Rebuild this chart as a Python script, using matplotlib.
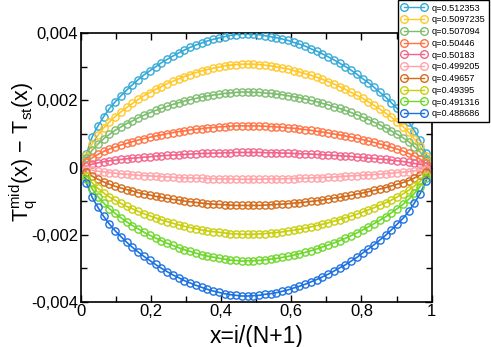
import numpy as np
import matplotlib
matplotlib.use("Agg")
import matplotlib.pyplot as plt
from matplotlib.ticker import MultipleLocator, FuncFormatter

plt.rcParams['font.family'] = ['Liberation Sans', 'DejaVu Sans']
plt.rcParams['mathtext.fontset'] = 'custom'
plt.rcParams['mathtext.rm'] = 'Liberation Sans'
plt.rcParams['mathtext.it'] = 'Liberation Sans'

# lattice sites, x = i/(N+1) with N = 60
n_sites = 60
q_labels = ['q=0.512353', 'q=0.5097235', 'q=0.507094', 'q=0.50446', 'q=0.50183',
            'q=0.499205', 'q=0.49657', 'q=0.49395', 'q=0.491316', 'q=0.488686']
colors = ['#35a9d8', '#ffc828', '#7dbd6e', '#ff7344', '#f2648a',
          '#ffa3a8', '#d46c1c', '#c9cf0c', '#6ed82a', '#1e72e0']

# T_q^mid - T_st, in units of 1e-4
d1 = [4.0, 9.2, 12.4, 15.2, 17.6, 19.6, 21.4, 23.1, 24.7, 26.2,
      27.6, 28.8, 30.0, 31.2, 32.2, 33.2, 34.1, 35.0, 35.8, 36.5,
      37.1, 37.7, 38.2, 38.6, 39.0, 39.4, 39.6, 39.8, 39.8, 39.7,
      39.6, 39.3, 39.0, 38.7, 38.3, 37.9, 37.3, 36.8, 36.2, 35.4,
      34.7, 33.9, 33.0, 32.1, 31.1, 30.1, 29.0, 27.8, 26.5, 25.3,
      23.9, 22.4, 21.0, 19.3, 17.6, 15.8, 13.6, 11.0, 8.1, 4.2]
d2 = [3.7, 7.1, 9.6, 11.8, 13.6, 15.2, 16.6, 17.9, 19.1, 20.3,
      21.4, 22.3, 23.3, 24.1, 25.0, 25.7, 26.4, 27.1, 27.7, 28.3,
      28.8, 29.2, 29.6, 29.9, 30.3, 30.5, 30.7, 30.8, 30.8, 30.8,
      30.7, 30.5, 30.3, 30.0, 29.7, 29.4, 28.9, 28.5, 28.0, 27.5,
      26.9, 26.3, 25.6, 24.9, 24.1, 23.3, 22.4, 21.5, 20.6, 19.6,
      18.5, 17.4, 16.2, 15.0, 13.6, 12.2, 10.5, 8.5, 6.3, 3.3]
d3 = [2.7, 5.2, 7.0, 8.6, 9.9, 11.1, 12.1, 13.1, 13.9, 14.8,
      15.6, 16.3, 17.0, 17.6, 18.2, 18.8, 19.3, 19.8, 20.2, 20.6,
      21.0, 21.3, 21.6, 21.8, 22.1, 22.2, 22.4, 22.5, 22.5, 22.4,
      22.4, 22.2, 22.1, 21.9, 21.7, 21.4, 21.1, 20.8, 20.4, 20.0,
      19.6, 19.1, 18.7, 18.1, 17.6, 17.0, 16.4, 15.7, 15.0, 14.3,
      13.5, 12.7, 11.8, 10.9, 9.9, 8.9, 7.7, 6.2, 4.6, 2.4]
d4 = [1.5, 2.9, 3.9, 4.8, 5.5, 6.1, 6.7, 7.2, 7.7, 8.2,
      8.6, 9.0, 9.4, 9.7, 10.1, 10.4, 10.7, 10.9, 11.2, 11.4,
      11.6, 11.8, 11.9, 12.1, 12.2, 12.3, 12.4, 12.4, 12.4, 12.4,
      12.4, 12.3, 12.2, 12.1, 12.0, 11.8, 11.7, 11.5, 11.3, 11.1,
      10.8, 10.6, 10.3, 10.0, 9.7, 9.4, 9.1, 8.7, 8.3, 7.9,
      7.5, 7.0, 6.6, 6.0, 5.5, 4.9, 4.2, 3.4, 2.5, 1.3]
d5 = [0.5, 1.0, 1.4, 1.7, 2.0, 2.2, 2.4, 2.6, 2.8, 2.9,
      3.1, 3.2, 3.4, 3.5, 3.6, 3.7, 3.8, 3.9, 4.0, 4.1,
      4.2, 4.2, 4.3, 4.3, 4.4, 4.4, 4.5, 4.5, 4.5, 4.5,
      4.5, 4.4, 4.4, 4.4, 4.3, 4.3, 4.2, 4.1, 4.1, 4.0,
      3.9, 3.8, 3.7, 3.6, 3.5, 3.4, 3.3, 3.1, 3.0, 2.8,
      2.7, 2.5, 2.4, 2.2, 2.0, 1.8, 1.5, 1.2, 0.9, 0.5]
d6 = [-0.4, -0.8, -1.1, -1.3, -1.5, -1.7, -1.9, -2.0, -2.2, -2.3,
      -2.4, -2.5, -2.6, -2.7, -2.8, -2.9, -3.0, -3.1, -3.1, -3.2,
      -3.2, -3.3, -3.3, -3.4, -3.4, -3.4, -3.5, -3.5, -3.5, -3.5,
      -3.5, -3.4, -3.4, -3.4, -3.4, -3.3, -3.3, -3.2, -3.2, -3.1,
      -3.0, -3.0, -2.9, -2.8, -2.7, -2.6, -2.5, -2.4, -2.3, -2.2,
      -2.1, -2.0, -1.8, -1.7, -1.5, -1.4, -1.2, -1.0, -0.7, -0.4]
d7 = [-1.4, -2.6, -3.5, -4.3, -5.0, -5.6, -6.1, -6.6, -7.0, -7.5,
      -7.9, -8.2, -8.6, -8.9, -9.2, -9.5, -9.7, -10.0, -10.2, -10.4,
      -10.6, -10.8, -10.9, -11.0, -11.1, -11.2, -11.3, -11.3, -11.3, -11.3,
      -11.3, -11.2, -11.1, -11.0, -10.9, -10.8, -10.6, -10.5, -10.3, -10.1,
      -9.9, -9.7, -9.4, -9.1, -8.9, -8.6, -8.3, -7.9, -7.6, -7.2,
      -6.8, -6.4, -6.0, -5.5, -5.0, -4.5, -3.9, -3.1, -2.3, -1.2]
d8 = [-2.4, -4.6, -6.2, -7.6, -8.8, -9.8, -10.7, -11.6, -12.3, -13.1,
      -13.8, -14.4, -15.0, -15.6, -16.1, -16.6, -17.1, -17.5, -17.9, -18.2,
      -18.6, -18.9, -19.1, -19.3, -19.5, -19.7, -19.8, -19.9, -19.9, -19.9,
      -19.8, -19.7, -19.5, -19.4, -19.2, -18.9, -18.7, -18.4, -18.1, -17.7,
      -17.3, -16.9, -16.5, -16.0, -15.5, -15.0, -14.5, -13.9, -13.3, -12.6,
      -12.0, -11.2, -10.5, -9.7, -8.8, -7.9, -6.8, -5.5, -4.1, -2.1]
d9 = [-3.4, -6.4, -8.7, -10.6, -12.3, -13.7, -15.0, -16.2, -17.3, -18.3,
      -19.3, -20.2, -21.0, -21.8, -22.6, -23.2, -23.9, -24.5, -25.0, -25.5,
      -26.0, -26.4, -26.7, -27.0, -27.3, -27.6, -27.7, -27.9, -27.8, -27.8,
      -27.7, -27.5, -27.3, -27.1, -26.8, -26.5, -26.1, -25.7, -25.3, -24.8,
      -24.3, -23.7, -23.1, -22.5, -21.8, -21.1, -20.3, -19.5, -18.6, -17.7,
      -16.7, -15.7, -14.7, -13.5, -12.3, -11.0, -9.5, -7.7, -5.7, -3.0]
d10 = [-4.6, -8.9, -11.9, -14.6, -16.9, -18.9, -20.6, -22.3, -23.8, -25.2,
       -26.5, -27.7, -28.9, -30.0, -31.0, -32.0, -32.8, -33.7, -34.4, -35.1,
       -35.7, -36.3, -36.8, -37.2, -37.6, -37.9, -38.1, -38.3, -38.3, -38.2,
       -38.1, -37.8, -37.6, -37.3, -36.9, -36.5, -35.9, -35.4, -34.8, -34.1,
       -33.4, -32.6, -31.8, -30.9, -29.9, -29.0, -27.9, -26.8, -25.5, -24.3,
       -23.0, -21.6, -20.2, -18.6, -16.9, -15.2, -13.1, -10.6, -7.8, -4.1]

series = [d1, d2, d3, d4, d5, d6, d7, d8, d9, d10]

x = np.arange(1, n_sites + 1) / (n_sites + 1)
x_line = np.concatenate([[0.0], x, [1.0]])

fig = plt.figure(figsize=(4.91, 3.47), dpi=100)
ax = fig.add_axes([0.1644, 0.1305, 0.7147, 0.7735])

for vals, col, lab in zip(series, colors, q_labels):
    y = np.array(vals) * 1e-4
    y_line = np.concatenate([[0.0], y, [0.0]])
    ax.plot(x_line, y_line, '-', color=col, lw=1.2, zorder=2)
    ax.plot(x, y, 'o', mfc='none', mec=col, mew=1.0, ms=5.2, zorder=3)
    # legend handle only
    ax.plot([], [], 'o-', color=col, mfc='none', mec=col, mew=1.0, ms=5.5, lw=1.0, label=lab)

ax.set_xlim(0, 1)
ax.set_ylim(-0.004, 0.004)
ax.xaxis.set_major_locator(MultipleLocator(0.2))
ax.xaxis.set_minor_locator(MultipleLocator(0.1))
ax.yaxis.set_major_locator(MultipleLocator(0.002))
ax.yaxis.set_minor_locator(MultipleLocator(0.001))


def comma_fmt(v, pos):
    if abs(v) < 1e-12:
        return '0'
    s = ('%.3f' % v).rstrip('0').rstrip('.')
    return s.replace('.', ',')


ax.xaxis.set_major_formatter(FuncFormatter(comma_fmt))
ax.yaxis.set_major_formatter(FuncFormatter(comma_fmt))
ax.tick_params(which='both', direction='in', top=True, right=True, width=1.0,
               labelsize=12, pad=2)
ax.tick_params(which='major', length=5)
ax.tick_params(which='minor', length=4)
for sp in ax.spines.values():
    sp.set_linewidth(1.2)

ax.set_xlabel('x=i/(N+1)', fontsize=16.5)
ax.xaxis.set_label_coords(0.5, -0.085)
ax.set_ylabel(r'$\mathregular{T_q^{mid}(x)\,-\,T_{st}(x)}$', fontsize=15.5)
ax.yaxis.set_label_coords(-0.115, 0.56)

fig.legend(loc='upper right', bbox_to_anchor=(0.996, 0.999), fontsize=6.6,
           numpoints=2, handlelength=2.8, handletextpad=0.55, labelspacing=0.3,
           borderpad=0.35, frameon=True, fancybox=False, edgecolor='black',
           framealpha=1.0, borderaxespad=0.0)

fig.savefig('out.png', dpi=100)
